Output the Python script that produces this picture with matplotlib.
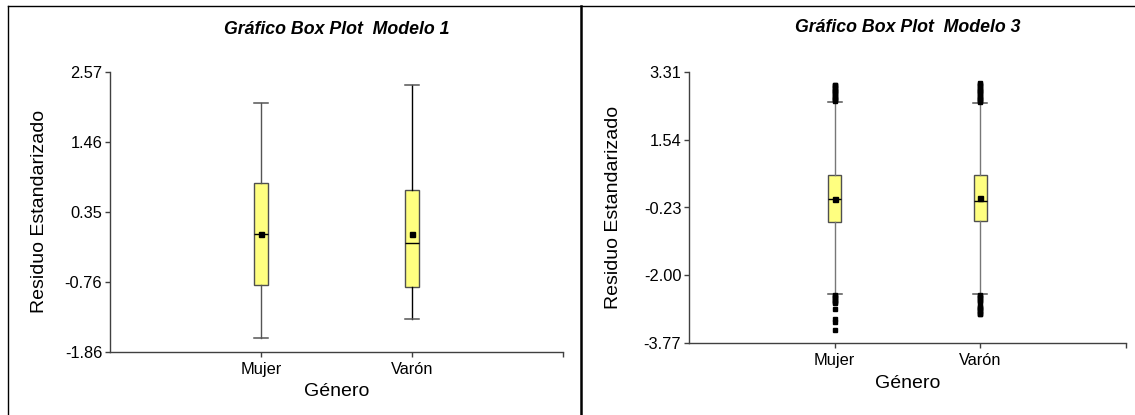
import matplotlib
matplotlib.use("Agg")
import matplotlib.pyplot as plt
from matplotlib.lines import Line2D

plt.rcParams['font.family'] = ['Liberation Sans', 'DejaVu Sans']

categories = ["Mujer", "Varón"]

# Modelo 1 (left panel)
m1_yticks = [-1.86, -0.76, 0.35, 1.46, 2.57]
m1_whislo = [-1.65, -1.34]
m1_q1 = [-0.80, -0.84]
m1_med = [0.00, -0.145]
m1_mean = [0.00, 0.00]
m1_q3 = [0.81, 0.70]
m1_whishi = [2.07, 2.36]
m1_fliers = [[], []]

# Modelo 3 (right panel)
m3_yticks = [-3.77, -2.00, -0.23, 1.54, 3.31]
m3_whislo = [-2.50, -2.50]
m3_q1 = [-0.62, -0.59]
m3_med = [0.00, -0.07]
m3_mean = [0.00, 0.01]
m3_q3 = [0.63, 0.63]
m3_whishi = [2.52, 2.50]
m3_fliers_mujer = [2.55, 2.58, 2.61, 2.64, 2.67, 2.70, 2.73, 2.76, 2.79, 2.82,
                   2.85, 2.88, 2.91, 2.94, 2.97, 2.99,
                   -2.52, -2.55, -2.58, -2.61, -2.64, -2.67, -2.70, -2.72,
                   -2.90, -3.16, -3.23, -3.43]
m3_fliers_varon = [2.52, 2.55, 2.58, 2.61, 2.64, 2.67, 2.70, 2.73, 2.76, 2.79,
                   2.82, 2.85, 2.88, 2.91, 2.94, 2.97, 3.00, 3.03,
                   -2.52, -2.55, -2.58, -2.61, -2.64, -2.67, -2.70,
                   -2.80, -2.83, -2.86, -2.89, -2.92, -2.95, -2.98, -3.01, -3.03]
m3_fliers = [m3_fliers_mujer, m3_fliers_varon]

BOX_FILL = "#FFFF80"
BOX_EDGE = "#505050"
AXIS_COL = "#404040"

fig = plt.figure(figsize=(11.35, 4.15), dpi=100)
W, H = 1135.0, 415.0


def make_stats(whislo, q1, med, mean, q3, whishi, fliers):
    stats = []
    for i in range(len(categories)):
        stats.append(dict(whislo=whislo[i], q1=q1[i], med=med[i], mean=mean[i],
                          q3=q3[i], whishi=whishi[i], fliers=fliers[i],
                          label=categories[i]))
    return stats


def draw_panel(rect, stats, yticks, whisk_colors, title, tcx, ty, ylx, xly):
    ax = fig.add_axes(rect)
    res = ax.bxp(stats, positions=[1, 2], widths=0.088, showmeans=True,
                 patch_artist=True, manage_ticks=False,
                 boxprops=dict(facecolor=BOX_FILL, edgecolor=BOX_EDGE, linewidth=1.0),
                 medianprops=dict(color="black", linewidth=1.0),
                 meanprops=dict(marker="s", markerfacecolor="black",
                                markeredgecolor="black", markersize=3.6),
                 capprops=dict(color="#555555", linewidth=1.1),
                 flierprops=dict(marker="s", markerfacecolor="black",
                                 markeredgecolor="black", markersize=3.3,
                                 linestyle="none"),
                 capwidths=0.097)
    for i, c in enumerate(whisk_colors):
        for w in (res['whiskers'][2 * i], res['whiskers'][2 * i + 1]):
            w.set_color(c)
            w.set_linewidth(1.0)
    ax.set_xlim(0, 3)
    ax.set_ylim(yticks[0], yticks[-1])
    ax.set_yticks(yticks)
    ax.set_yticklabels([f"{v:.2f}" for v in yticks])
    ax.set_xticks([1, 2, 3])
    ax.set_xticklabels(categories + [""])
    for s in ("top", "right"):
        ax.spines[s].set_visible(False)
    for s in ("left", "bottom"):
        ax.spines[s].set_color(AXIS_COL)
        ax.spines[s].set_linewidth(1.0)
    ax.tick_params(axis="both", colors=AXIS_COL, length=3.5, width=1.0,
                   labelsize=11.8, labelcolor="black", pad=2)
    ax.tick_params(axis="x", pad=4)
    fig.text(tcx / W, 1 - ty / H, title, ha="center", va="center",
             fontsize=12.8, fontweight="bold", fontstyle="italic")
    ycen = rect[1] + rect[3] / 2
    fig.text(ylx / W, ycen, "Residuo Estandarizado", rotation=90,
             ha="center", va="center", fontsize=14)
    fig.text(tcx / W, 1 - xly / H, "Género", ha="center", va="center",
             fontsize=14)
    return ax


left_rect = [110 / W, 1 - 351.7 / H, 453 / W, 280 / H]
right_rect = [689 / W, 1 - 342.7 / H, 437 / W, 270.4 / H]

draw_panel(left_rect,
           make_stats(m1_whislo, m1_q1, m1_med, m1_mean, m1_q3, m1_whishi, m1_fliers),
           m1_yticks, ["#555555", "black"], "Gráfico Box Plot  Modelo 1",
           337, 30, 40, 391)
draw_panel(right_rect,
           make_stats(m3_whislo, m3_q1, m3_med, m3_mean, m3_q3, m3_whishi, m3_fliers),
           m3_yticks, ["#777777", "#777777"], "Gráfico Box Plot  Modelo 3",
           908, 28, 613, 383)

# panel frames
fig.add_artist(Line2D([8 / W, 1.0], [1 - 6 / H, 1 - 6 / H], color="black",
                      linewidth=1.0, transform=fig.transFigure))
fig.add_artist(Line2D([8 / W, 8 / W], [0, 1 - 6 / H], color="black",
                      linewidth=1.0, transform=fig.transFigure))
fig.add_artist(Line2D([581 / W, 581 / W], [0, 1 - 6 / H], color="black",
                      linewidth=1.8, transform=fig.transFigure))

fig.savefig("out.png", dpi=100)
